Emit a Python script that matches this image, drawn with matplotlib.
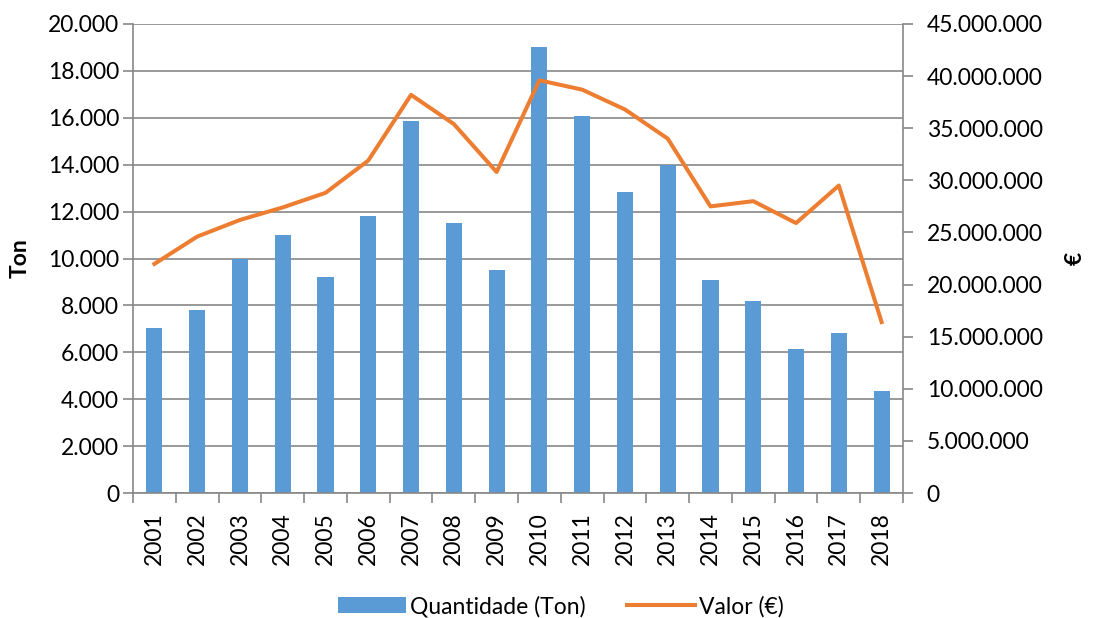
import numpy as np
import matplotlib.pyplot as plt
from matplotlib.ticker import FuncFormatter, MultipleLocator

plt.rcParams['font.family'] = ['Lato', 'DejaVu Sans']

years = [str(y) for y in range(2001, 2019)]
quantidade = [7040, 7800, 9970, 11000, 9220, 11830, 15850, 11500, 9510,
              19000, 16080, 12820, 13970, 9080, 8200, 6150, 6820, 4360]
valor = [21.98e6, 24.6e6, 26.2e6, 27.4e6, 28.8e6, 31.9e6, 38.2e6, 35.4e6, 30.8e6,
         39.6e6, 38.7e6, 36.8e6, 34.0e6, 27.5e6, 28.0e6, 25.9e6, 29.5e6, 16.4e6]

bar_color = '#5B9BD5'
line_color = '#ED7D31'
grid_color = '#888888'
fs = 16.5


def dots(v, pos):
    return f'{int(round(v)):,}'.replace(',', '.')


fig = plt.figure(figsize=(11.1, 6.18), dpi=100)
ax = fig.add_axes([133 / 1110, 1 - 493 / 618, 770 / 1110, 469 / 618])
x = np.arange(len(years))

ax.bar(x, quantidade, width=0.375, color=bar_color, label='Quantidade (Ton)', zorder=2)
ax.set_xlim(-0.5, len(years) - 0.5)
ax.set_ylim(0, 20000)
ax.yaxis.set_major_locator(MultipleLocator(2000))
ax.yaxis.set_major_formatter(FuncFormatter(dots))
ax.grid(axis='y', color=grid_color, linewidth=1.2, zorder=0)
ax.set_axisbelow(True)

ax.set_xticks(x)
ax.set_xticklabels(years, rotation=90)
ax.set_xticks(np.arange(len(years) + 1) - 0.5, minor=True)
ax.tick_params(axis='x', which='major', length=0, pad=14, labelsize=fs)
ax.tick_params(axis='x', which='minor', length=7, color=grid_color, width=1.2)
ax.tick_params(axis='y', length=7, color=grid_color, width=1.2, labelsize=fs, pad=3)
ax.set_ylabel('Ton', fontsize=fs, fontweight='bold', labelpad=12)

ax2 = ax.twinx()
ax2.plot(x, valor, color=line_color, linewidth=2.9, label='Valor (€)', zorder=3)
ax2.set_ylim(0, 45e6)
ax2.yaxis.set_major_locator(MultipleLocator(5e6))
ax2.yaxis.set_major_formatter(FuncFormatter(dots))
ax2.tick_params(axis='y', length=7, color=grid_color, width=1.2, labelsize=fs, pad=10)
ax2.set_ylabel('€', fontsize=fs, fontweight='bold', labelpad=16, rotation=90)

for a in (ax, ax2):
    for s in a.spines.values():
        s.set_visible(False)
ax.spines['left'].set_visible(True)
ax.spines['bottom'].set_visible(True)
ax2.spines['right'].set_visible(True)
for s in (ax.spines['left'], ax.spines['bottom'], ax2.spines['right']):
    s.set_color(grid_color)
    s.set_linewidth(1.2)

h1, l1 = ax.get_legend_handles_labels()
h2, l2 = ax2.get_legend_handles_labels()
fig.legend(h1 + h2, l1 + l2, loc='lower center', bbox_to_anchor=(0.505, -0.032),
           ncol=2, frameon=False, fontsize=fs, handlelength=3.0,
           handletextpad=0.15, columnspacing=1.8)

fig.savefig('out.png', dpi=100)
